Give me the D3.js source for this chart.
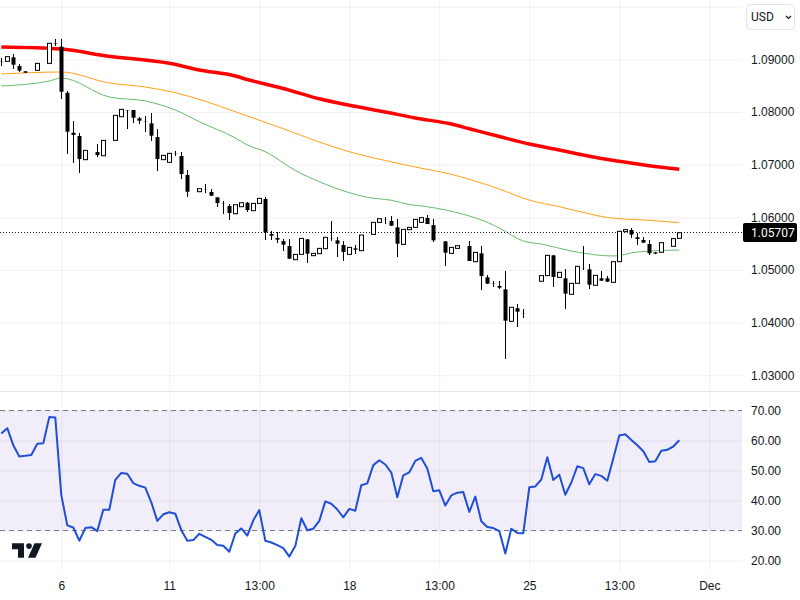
<!DOCTYPE html>
<html>
<head>
<meta charset="utf-8">
<script src="https://cdn.jsdelivr.net/npm/d3@7"></script>
<style>
  html, body { margin: 0; padding: 0; background: #fff; }
  svg { display: block; font-family: Roboto, "Noto Sans", sans-serif; }
  .axis text { font-size: 12px; fill: #131722; }
  .axis .domain { display: none; }
  .grid .domain { display: none; }
  .grid text { display: none; }
  .grid line { stroke: #000; stroke-opacity: 0.06; }
</style>
</head>
<body>
<div id="chart"></div>
<script>
// candles, first one sits 10 bars before the "6" tick
var firstBar = -10;
var opens = [1.08967,1.08961,1.09037,1.08872,1.08771,1.08790,1.08790,1.08929,1.08923,1.09300,
  1.09240,1.08366,1.07606,1.07543,1.07094,1.07296,1.07239,1.07169,1.07461,1.07461,
  1.07910,1.08037,1.08037,1.07879,1.07815,1.07784,1.07524,1.07094,1.07043,1.07214,
  1.07163,1.06802,1.06492,1.06486,1.06537,1.06480,1.06378,1.06258,1.06214,1.06068,
  1.06201,1.06277,1.06125,1.06264,1.06347,1.05682,1.05606,1.05550,1.05455,1.05195,
  1.05296,1.05581,1.05271,1.05309,1.05404,1.05594,1.05562,1.05474,1.05296,1.05410,
  1.05366,1.05682,1.05676,1.05904,1.05961,1.05929,1.05809,1.05486,1.05765,1.05809,
  1.05904,1.05986,1.05853,1.05562,1.05543,1.05315,1.05410,1.05467,1.05455,1.05157,
  1.05316,1.04860,1.04740,1.04696,1.04632,1.04025,1.04272,1.04180,1.04791,1.04791,
  1.04785,1.04892,1.05278,1.04860,1.04841,1.04538,1.04746,1.05038,1.05012,1.04709,
  1.04841,1.04841,1.04765,1.05158,1.05728,1.05759,1.05620,1.05569,1.05493,1.05335,
  1.05335,1.05544,1.05449,1.05601];
var highs = [1.09018,1.09050,1.09100,1.08910,1.08771,1.08790,1.08923,1.08929,1.09303,1.09379,
  1.09379,1.08391,1.07834,1.07606,1.07271,1.07296,1.07391,1.07461,1.07461,1.07936,
  1.08049,1.08037,1.08037,1.07897,1.07923,1.07974,1.07670,1.07176,1.07214,1.07264,
  1.07239,1.06897,1.06492,1.06543,1.06631,1.06530,1.06391,1.06302,1.06252,1.06239,
  1.06277,1.06296,1.06264,1.06359,1.06379,1.05746,1.05714,1.05594,1.05581,1.05296,
  1.05600,1.05581,1.05315,1.05410,1.05619,1.05936,1.05632,1.05543,1.05429,1.05474,
  1.05663,1.05682,1.05904,1.05974,1.05999,1.06024,1.05961,1.05771,1.05809,1.05961,
  1.05993,1.06037,1.05961,1.05562,1.05543,1.05429,1.05461,1.05467,1.05543,1.05334,
  1.05455,1.04905,1.04791,1.04791,1.04981,1.04291,1.04354,1.04259,1.04791,1.04791,
  1.04892,1.05278,1.05278,1.04955,1.05012,1.04746,1.05069,1.05455,1.05114,1.04898,
  1.04981,1.04886,1.05158,1.05734,1.05766,1.05797,1.05709,1.05620,1.05569,1.05335,
  1.05519,1.05544,1.05595,1.05707];
var lows = [1.08872,1.08961,1.08809,1.08765,1.08746,1.08790,1.08790,1.08929,1.08923,1.09258,
  1.08239,1.07201,1.07037,1.06847,1.07094,1.07296,1.07138,1.07169,1.07461,1.07461,
  1.07910,1.07676,1.07784,1.07771,1.07625,1.07454,1.06878,1.07094,1.07043,1.07163,
  1.06720,1.06391,1.06492,1.06486,1.06454,1.06404,1.06188,1.06062,1.05948,1.06068,
  1.06201,1.06100,1.06125,1.06264,1.05568,1.05568,1.05518,1.05360,1.05201,1.05195,
  1.05296,1.05138,1.05271,1.05309,1.05404,1.05550,1.05252,1.05176,1.05296,1.05303,
  1.05366,1.05682,1.05676,1.05904,1.05872,1.05834,1.05252,1.05486,1.05765,1.05809,
  1.05904,1.05872,1.05531,1.05562,1.05075,1.05315,1.05410,1.05467,1.05170,1.05157,
  1.04620,1.04727,1.04683,1.04632,1.03316,1.04025,1.03924,1.04095,1.04791,1.04791,
  1.04785,1.04892,1.04677,1.04860,1.04265,1.04538,1.04746,1.05000,1.04645,1.04709,
  1.04791,1.04778,1.04765,1.05158,1.05728,1.05614,1.05481,1.05506,1.05291,1.05310,
  1.05335,1.05544,1.05449,1.05601];
var closes = [1.08961,1.09050,1.08898,1.08784,1.08746,1.08790,1.08923,1.08929,1.09303,1.09290,
  1.08385,1.07625,1.07562,1.07106,1.07271,1.07296,1.07182,1.07461,1.07461,1.07936,
  1.08049,1.08030,1.07891,1.07834,1.07810,1.07549,1.07106,1.07176,1.07214,1.07210,
  1.06821,1.06486,1.06492,1.06543,1.06533,1.06410,1.06271,1.06254,1.06081,1.06239,
  1.06277,1.06138,1.06264,1.06359,1.05714,1.05651,1.05575,1.05480,1.05214,1.05296,
  1.05600,1.05309,1.05315,1.05410,1.05619,1.05590,1.05499,1.05341,1.05429,1.05385,
  1.05663,1.05682,1.05904,1.05974,1.05957,1.05841,1.05499,1.05771,1.05809,1.05961,
  1.05993,1.05872,1.05562,1.05562,1.05328,1.05429,1.05461,1.05467,1.05170,1.05334,
  1.04886,1.04740,1.04736,1.04664,1.04038,1.04291,1.04208,1.04176,1.04791,1.04791,
  1.04892,1.05278,1.04867,1.04955,1.04550,1.04746,1.05069,1.05034,1.04721,1.04898,
  1.04797,1.04778,1.05158,1.05734,1.05766,1.05671,1.05588,1.05519,1.05316,1.05310,
  1.05519,1.05544,1.05595,1.05707];

// moving averages, read at a handful of bars
var redBars = [-10,0,7,18,23,29,31,37,43,48,54,59,65,68,73,78,83,88,93,98,103];
var redValues = [1.09234,1.09196,1.09072,1.08924,1.08797,1.08683,1.08616,1.08446,1.08250,1.08127,1.08000,1.07885,1.07771,1.07682,1.07534,1.07392,1.07278,1.07158,1.07063,1.06980,1.06911];
var orangeBars = [-10,0,8,14,19,29,31,37,43,48,54,59,65,68,73,78,83,88,91,98,103];
var orangeValues = [1.08721,1.08759,1.08550,1.08474,1.08366,1.08005,1.07923,1.07682,1.07429,1.07245,1.07078,1.06955,1.06816,1.06721,1.06537,1.06327,1.06201,1.06066,1.05996,1.05943,1.05898];
var greenBars = [-10,-2,0,8,14,19,23,29,31,34,39,43,48,51,55,58,61,67,71,73,77,80,85,92,96,103];
var greenValues = [1.08493,1.08588,1.08645,1.08284,1.08208,1.08037,1.07815,1.07506,1.07373,1.07245,1.06889,1.06676,1.06467,1.06380,1.06323,1.06243,1.06201,1.06057,1.05905,1.05797,1.05550,1.05493,1.05360,1.05265,1.05341,1.05379];

// rsi, one value per candle
var rsiValues = [62.3,64.1,58.4,54.7,54.9,55.2,58.9,59.1,67.8,67.7,
  41.8,31.7,31.0,26.6,30.8,31.1,29.8,36.9,36.9,46.9,
  49.2,48.9,45.8,44.9,44.3,39.4,33.2,35.4,36.1,35.6,
  30.1,26.6,26.8,28.9,27.9,26.9,25.2,24.9,22.9,29.0,
  30.7,28.3,33.4,36.8,26.6,26.0,25.1,24.1,21.3,24.8,
  34.1,30.1,30.6,33.2,39.7,38.9,37.0,34.4,37.2,36.6,
  45.1,45.7,51.8,53.4,52.0,49.3,41.1,48.4,49.4,53.2,
  54.2,50.7,43.1,43.4,38.3,41.7,42.6,42.8,36.2,41.3,
  33.1,31.2,30.8,29.8,22.3,30.6,29.2,29.1,44.4,44.7,
  47.0,54.4,46.8,48.6,41.9,46.0,51.4,50.8,45.4,48.8,
  48.2,46.6,54.0,61.7,62.1,60.2,58.4,56.4,52.8,53.1,
  56.6,56.9,58.0,60.1];

var lastPrice = 1.05707;
var priceTicks = [1.09,1.08,1.07,1.06,1.05,1.04,1.03];
var rsiTicks = [70,60,50,40,30,20];
var timeTicks = [0,18,33,48,63,78,93,108];
var timeLabels = ["6","11","13:00","18","13:00","25","13:00","Dec"];

var svgWidth = 800;
var svgHeight = 600;
var paneRight = 742;

var svg = d3.select("#chart").append("svg")
  .attr("width", svgWidth)
  .attr("height", svgHeight);

svg.append("defs").append("clipPath").attr("id", "pane")
  .append("rect").attr("width", paneRight).attr("height", 391);

// scales
var xScale = d3.scaleLinear().domain([0, 108]).range([61.3, 709.3]);
var yPrice = d3.scaleLinear().domain([1.09, 1.03]).range([59.3, 375.3]);
var yRsi = d3.scaleLinear().domain([70, 30]).range([410.5, 530.5]);

// rsi band goes under the grid
svg.append("rect")
  .attr("x", 0).attr("width", paneRight)
  .attr("y", yRsi(70)).attr("height", yRsi(30) - yRsi(70))
  .attr("fill", "#7e57c2").attr("fill-opacity", 0.1);

// vertical grid, both panes
svg.append("g").attr("class", "grid")
  .attr("transform", "translate(0,571)")
  .call(d3.axisBottom(xScale).tickValues(timeTicks).tickSize(-571).tickSizeOuter(0));

// horizontal grid
svg.append("g").attr("class", "grid")
  .attr("transform", "translate(" + paneRight + ",0)")
  .call(d3.axisLeft(yPrice).tickValues([1.10].concat(priceTicks)).tickSize(paneRight).tickSizeOuter(0));
svg.append("g").attr("class", "grid")
  .attr("transform", "translate(" + paneRight + ",0)")
  .call(d3.axisLeft(yRsi).tickValues(rsiTicks).tickSize(paneRight).tickSizeOuter(0));

// pane separator
svg.append("line")
  .attr("x1", 0).attr("x2", svgWidth).attr("y1", 391.5).attr("y2", 391.5)
  .attr("stroke", "#e0e3eb");

// rsi limits
[70, 30].forEach(function(level) {
  svg.append("line")
    .attr("x1", 0).attr("x2", paneRight)
    .attr("y1", yRsi(level)).attr("y2", yRsi(level))
    .attr("stroke", "#787b86")
    .attr("stroke-dasharray", "5,4");
});

// moving averages
function maLine(bars, values, color, width) {
  var line = d3.line()
    .x(function(d) { return xScale(bars[d]); })
    .y(function(d) { return yPrice(values[d]); })
    .curve(d3.curveMonotoneX);
  svg.append("path")
    .attr("clip-path", "url(#pane)")
    .attr("d", line(d3.range(bars.length)))
    .attr("fill", "none")
    .attr("stroke", color)
    .attr("stroke-width", width);
}
maLine(greenBars, greenValues, "#66bb6a", 1);
maLine(orangeBars, orangeValues, "#ff9f1a", 1);
maLine(redBars, redValues, "#ff0000", 3.5);

// last price line
svg.append("line")
  .attr("x1", 0).attr("x2", paneRight)
  .attr("y1", 232.5).attr("y2", 232.5)
  .attr("stroke", "#131722")
  .attr("stroke-dasharray", "1,2");

// candles
var candles = svg.append("g").selectAll("g")
  .data(d3.range(opens.length))
  .enter().append("g");

candles.append("rect")
  .attr("x", function(d) { return Math.round(xScale(d + firstBar) - 0.5); })
  .attr("width", 1)
  .attr("y", function(d) { return yPrice(highs[d]); })
  .attr("height", function(d) { return yPrice(lows[d]) - yPrice(highs[d]); })
  .attr("fill", "#000")
  .attr("shape-rendering", "crispEdges");

candles.append("rect")
  .attr("x", function(d) { return Math.round(xScale(d + firstBar) - 0.5) - 1.5; })
  .attr("width", 4)
  .attr("y", function(d) { return yPrice(Math.max(opens[d], closes[d])); })
  .attr("height", function(d) { return Math.abs(yPrice(opens[d]) - yPrice(closes[d])); })
  .attr("fill", function(d) { return closes[d] >= opens[d] ? "#fff" : "#000"; })
  .attr("stroke", function(d) { return closes[d] >= opens[d] ? "#000" : "none"; })
  .attr("stroke-width", 1);

// rsi line
var rsiLine = d3.line()
  .x(function(d, i) { return xScale(i + firstBar); })
  .y(function(d) { return yRsi(d); });

svg.append("path")
  .attr("clip-path", "url(#pane2)")
  .attr("d", rsiLine(rsiValues))
  .attr("fill", "none")
  .attr("stroke", "#1f4fd6")
  .attr("stroke-width", 2)
  .attr("stroke-linejoin", "round");

svg.select("defs").append("clipPath").attr("id", "pane2")
  .append("rect").attr("y", 392).attr("width", paneRight).attr("height", 179);

// axes
var fmtPrice = d3.format(".5f");
var fmtRsi = d3.format(".2f");

var priceAxis = svg.append("g").attr("class", "axis")
  .attr("transform", "translate(751,0)")
  .call(d3.axisRight(yPrice).tickValues(priceTicks).tickFormat(fmtPrice).tickSize(0).tickPadding(0));

var rsiAxis = svg.append("g").attr("class", "axis")
  .attr("transform", "translate(751,0)")
  .call(d3.axisRight(yRsi).tickValues(rsiTicks).tickFormat(fmtRsi).tickSize(0).tickPadding(0));

svg.append("g").attr("class", "axis")
  .attr("transform", "translate(0,577)")
  .call(d3.axisBottom(xScale).tickValues(timeTicks)
    .tickFormat(function(d, i) { return timeLabels[i]; })
    .tickSize(0).tickPadding(4));

// last price tag
svg.append("rect")
  .attr("x", 743).attr("y", 223).attr("width", 54).attr("height", 19)
  .attr("rx", 2)
  .attr("fill", "#000");
svg.append("text")
  .attr("x", 751).attr("y", 232.5).attr("dy", "0.36em")
  .attr("font-size", 12).attr("fill", "#fff")
  .text(fmtPrice(lastPrice));

// currency button
svg.append("rect")
  .attr("x", 746.5).attr("y", 4.5).attr("width", 48).attr("height", 25)
  .attr("rx", 4)
  .attr("fill", "#fff").attr("stroke", "#e0e3eb");
svg.append("text")
  .attr("x", 751).attr("y", 17).attr("dy", "0.36em")
  .attr("font-size", 12).attr("fill", "#131722")
  .text("USD");
svg.append("path")
  .attr("d", "M786 16l2.5 2.5l2.5-2.5")
  .attr("fill", "none").attr("stroke", "#131722").attr("stroke-width", 1.2);

// logo
var logo = svg.append("g").attr("transform", "translate(12,543.3)").attr("fill", "#131722");
logo.append("path").attr("d", "M0 0H12V14.4H6V6H0Z");
logo.append("circle").attr("cx", 17).attr("cy", 2.8).attr("r", 2.8);
logo.append("path").attr("d", "M22.5 0H30L23.5 14.4H16Z");
</script>
</body>
</html>
